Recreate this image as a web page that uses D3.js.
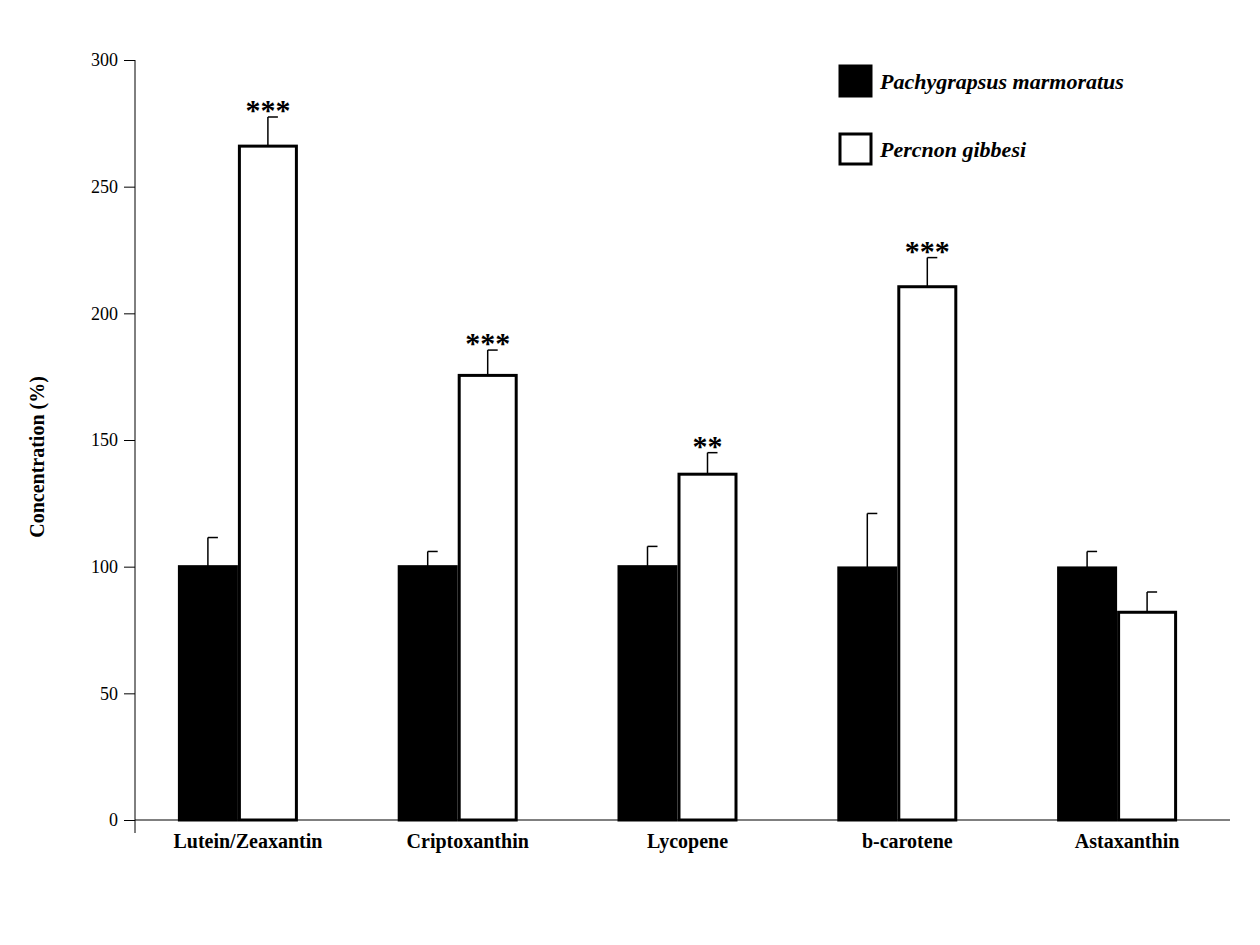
<!DOCTYPE html>
<html><head><meta charset="utf-8">
<script src="https://cdn.jsdelivr.net/npm/d3@7"></script>
<style>body{margin:0;background:#fff}text{font-family:"Liberation Serif","Times New Roman",serif}</style>
</head><body>
<script>
const categories = ["Lutein/Zeaxantin", "Criptoxanthin", "Lycopene", "b-carotene", "Astaxanthin"];
const seriesNames = ["Pachygrapsus marmoratus", "Percnon gibbesi"];
const pachyValues = [100, 100, 100, 99.5, 99.5];
const pachyErrors = [11.5, 6, 8, 21.5, 6.5];
const percnonValues = [266, 175.5, 136.5, 210.5, 82];
const percnonErrors = [11.5, 10, 8.5, 11.5, 8];
const significance = ["***", "***", "**", "***", ""];
const yTicks = [0, 50, 100, 150, 200, 250, 300];

const svg = d3.select("body").append("svg").attr("width", 1260).attr("height", 945);
const y = d3.scaleLinear().domain([0, 300]).range([820, 60]);
const x = d3.scaleBand().domain(categories).range([128, 1227]);
const bw = 60;

// axes
svg.append("g").attr("transform", "translate(135,0)")
  .call(d3.axisLeft(y).tickValues(yTicks).tickSize(11).tickPadding(6))
  .call(g => { g.select(".domain").attr("d", "M0,60V833"); g.selectAll("text").attr("font-size", 18).attr("font-family", "Liberation Serif"); g.selectAll("line,path").attr("stroke", "#000"); });
svg.append("line").attr("x1", 135).attr("x2", 1230).attr("y1", 820).attr("y2", 820).attr("stroke", "#000");

const groups = svg.append("g").selectAll("g").data(categories).join("g");
const series = [
  { vals: pachyValues, errs: pachyErrors, fill: "#000", off: -bw },
  { vals: percnonValues, errs: percnonErrors, fill: "#fff", off: 0 }
];
series.forEach(s => {
  groups.append("line")
    .attr("x1", (d, i) => x(d) + x.bandwidth() / 2 + s.off + bw / 2)
    .attr("x2", (d, i) => x(d) + x.bandwidth() / 2 + s.off + bw / 2)
    .attr("y1", (d, i) => y(s.vals[i]))
    .attr("y2", (d, i) => y(s.vals[i] + s.errs[i])).attr("stroke", "#000").attr("stroke-width", 1.5);
  groups.append("line")
    .attr("x1", (d, i) => x(d) + x.bandwidth() / 2 + s.off + bw / 2)
    .attr("x2", (d, i) => x(d) + x.bandwidth() / 2 + s.off + bw / 2 + 10)
    .attr("y1", (d, i) => y(s.vals[i] + s.errs[i]))
    .attr("y2", (d, i) => y(s.vals[i] + s.errs[i])).attr("stroke", "#000").attr("stroke-width", 1.5);
  groups.append("rect")
    .attr("x", d => x(d) + x.bandwidth() / 2 + s.off + 1.5)
    .attr("width", bw - 3)
    .attr("y", (d, i) => y(s.vals[i]))
    .attr("height", (d, i) => 820 - y(s.vals[i]))
    .attr("fill", s.fill).attr("stroke", "#000").attr("stroke-width", 3);
});
groups.append("text")
  .attr("x", d => x(d) + x.bandwidth() / 2 + bw / 2)
  .attr("y", (d, i) => y(percnonValues[i] + percnonErrors[i]) + 3)
  .attr("text-anchor", "middle").attr("font-size", 30).attr("font-weight", "bold")
  .text((d, i) => significance[i]);
groups.append("text")
  .attr("x", d => x(d) + x.bandwidth() / 2 + 10)
  .attr("y", 848).attr("text-anchor", "middle").attr("font-size", 20).attr("font-weight", "bold")
  .text(d => d);

svg.append("text").attr("transform", "translate(44,457) rotate(-90)")
  .attr("text-anchor", "middle").attr("font-size", 20).attr("font-weight", "bold")
  .text("Concentration (%)");

// legend
const leg = svg.append("g").selectAll("g").data(seriesNames).join("g")
  .attr("transform", (d, i) => `translate(840,${66 + i * 68})`);
leg.append("rect").attr("width", 31).attr("height", 30)
  .attr("fill", (d, i) => series[i].fill).attr("stroke", "#000").attr("stroke-width", 3);
leg.append("text").attr("x", 40).attr("y", 23).attr("font-size", 22)
  .attr("font-weight", "bold").attr("font-style", "italic").text(d => d);
</script>
</body></html>
